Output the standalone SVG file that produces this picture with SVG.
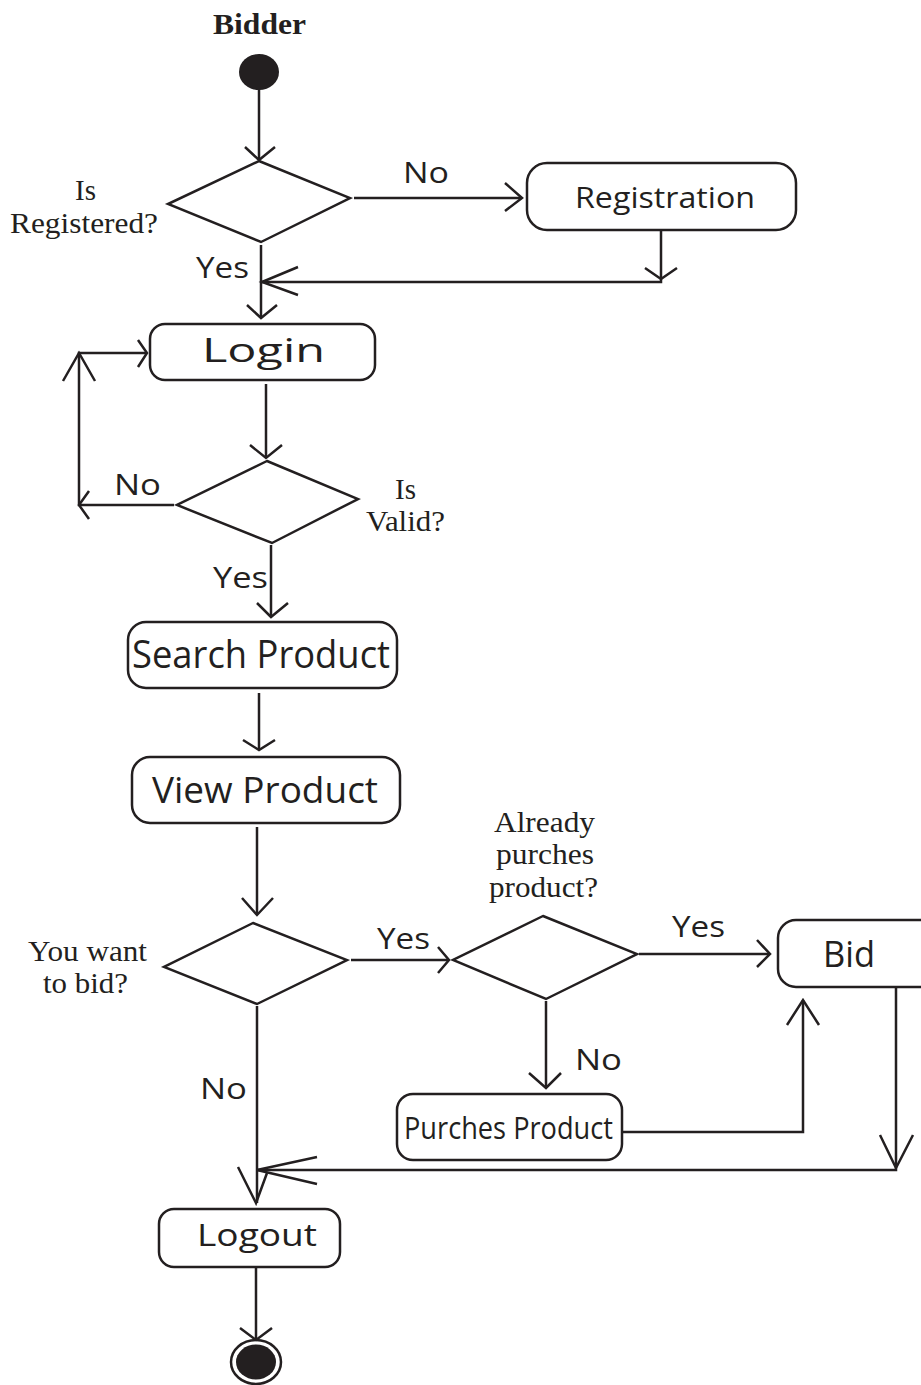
<svg xmlns="http://www.w3.org/2000/svg" width="921" height="1385" viewBox="0 0 921 1385">
  <style>
    .box { fill: #ffffff; stroke: #231f20; stroke-width: 2.5; }
    .dia { fill: #ffffff; stroke: #231f20; stroke-width: 2.5; stroke-linejoin: miter; }
    .ln { fill: none; stroke: #231f20; stroke-width: 2.5; }
    .hd { fill: none; stroke: #231f20; stroke-width: 2.5; stroke-linejoin: miter; }
    .lbl { font-family: "Open Sans", "Noto Sans", sans-serif; fill: #231f20; }
    .srf { font-family: "Liberation Serif", "Times New Roman", serif; fill: #231f20; font-size: 29.5px; }
  </style>

  <rect width="921" height="1385" fill="#ffffff"/>

  <!-- swimlane title -->
  <text class="srf" x="213" y="34" font-size="33" font-weight="bold" textLength="93" lengthAdjust="spacingAndGlyphs">Bidder</text>

  <!-- initial node -->
  <g id="start">
    <ellipse cx="259" cy="72" rx="20" ry="18" fill="#231f20"/>
  </g>

  <!-- decision: registered? -->
  <g id="isRegistered">
    <polygon class="dia" points="259,161 350,198 261,242 168,204"/>
    <text class="srf" x="75" y="200" textLength="21" lengthAdjust="spacingAndGlyphs">Is</text>
    <text class="srf" x="10" y="233" textLength="148" lengthAdjust="spacingAndGlyphs">Registered?</text>
  </g>

  <g id="registration">
    <rect class="box" x="527" y="163" width="269" height="67" rx="20"/>
    <text class="lbl" x="575" y="208" font-size="29" textLength="180" lengthAdjust="spacingAndGlyphs">Registration</text>
  </g>

  <g id="login">
    <rect class="box" x="150" y="324" width="225" height="56" rx="15"/>
    <text class="lbl" x="202" y="362" font-size="33" font-weight="500" textLength="123" lengthAdjust="spacingAndGlyphs">Login</text>
  </g>

  <!-- decision: valid? -->
  <g id="isValid">
    <polygon class="dia" points="267,461 358,499 272,543 177,505"/>
    <text class="srf" x="395" y="499" textLength="21" lengthAdjust="spacingAndGlyphs">Is</text>
    <text class="srf" x="366" y="531" textLength="79" lengthAdjust="spacingAndGlyphs">Valid?</text>
  </g>

  <g id="searchProduct">
    <rect class="box" x="128" y="622" width="269" height="66" rx="18"/>
    <text class="lbl" x="132" y="668" font-size="38" textLength="258" lengthAdjust="spacingAndGlyphs">Search Product</text>
  </g>

  <g id="viewProduct">
    <rect class="box" x="132" y="757" width="268" height="66" rx="18"/>
    <text class="lbl" x="152" y="803" font-size="37" textLength="226" lengthAdjust="spacingAndGlyphs">View Product</text>
  </g>

  <!-- decision: want to bid? -->
  <g id="wantToBid">
    <polygon class="dia" points="253,923 347,960 257,1004 164,967"/>
    <text class="srf" x="28" y="961" textLength="119" lengthAdjust="spacingAndGlyphs">You want</text>
    <text class="srf" x="43" y="993" textLength="85" lengthAdjust="spacingAndGlyphs">to bid?</text>
  </g>

  <!-- decision: already purchased? -->
  <g id="alreadyPurchased">
    <polygon class="dia" points="543,916 637,954 546,999 453,960"/>
    <text class="srf" x="494" y="832" textLength="101" lengthAdjust="spacingAndGlyphs">Already</text>
    <text class="srf" x="496" y="864" textLength="98" lengthAdjust="spacingAndGlyphs">purches</text>
    <text class="srf" x="489" y="897" textLength="109" lengthAdjust="spacingAndGlyphs">product?</text>
  </g>

  <!-- runs past the right border of the page -->
  <g id="bid">
    <rect class="box" x="778" y="920" width="170" height="67" rx="18"/>
    <text class="lbl" x="823" y="967" font-size="36" textLength="52" lengthAdjust="spacingAndGlyphs">Bid</text>
  </g>

  <g id="purchesProduct">
    <rect class="box" x="397" y="1094" width="225" height="66" rx="16"/>
    <text class="lbl" x="404" y="1139" font-size="31" textLength="209" lengthAdjust="spacingAndGlyphs">Purches Product</text>
  </g>

  <g id="logout">
    <rect class="box" x="159" y="1209" width="181" height="58" rx="15"/>
    <text class="lbl" x="197" y="1246" font-size="31" textLength="120" lengthAdjust="spacingAndGlyphs">Logout</text>
  </g>

  <!-- final node -->
  <g id="end">
    <ellipse cx="256" cy="1362" rx="25" ry="22" fill="#ffffff" stroke="#231f20" stroke-width="2.5"/>
    <ellipse cx="256" cy="1362" rx="20" ry="17.5" fill="#231f20"/>
  </g>

  <!-- control flows -->
  <g id="connectors">
    <path class="ln" d="M259,89 V160"/>
    <path class="hd" d="M245,147 L259,160 L275,147"/>

    <path class="ln" d="M354,198 H522"/>
    <path class="hd" d="M505,183 L522,198 L505,211"/>

    <path class="ln" d="M661,230 V282 H262"/>
    <path class="hd" d="M645,268 L661,279 L677,268"/>
    <path class="hd" d="M298,267 L262,282 L298,295"/>

    <path class="ln" d="M261,245 V318"/>
    <path class="hd" d="M247,305 L261,318 L277,305"/>

    <path class="ln" d="M266,384 V458"/>
    <path class="hd" d="M250,445 L266,458 L282,445"/>

    <path class="ln" d="M174,505 H79 V353 H147"/>
    <path class="hd" d="M89,491 L79,505 L89,519"/>
    <path class="hd" d="M63,381 L79,353 L95,381"/>
    <path class="hd" d="M138,340 L147,353 L138,367"/>

    <path class="ln" d="M271,545 V617"/>
    <path class="hd" d="M257,603 L271,617 L288,603"/>

    <path class="ln" d="M259,693 V750"/>
    <path class="hd" d="M243,740 L259,750 L275,740"/>

    <path class="ln" d="M257,827 V915"/>
    <path class="hd" d="M242,898 L257,915 L273,898"/>

    <path class="ln" d="M351,960 H449"/>
    <path class="hd" d="M438,947 L449,960 L438,973"/>

    <path class="ln" d="M639,954 H770"/>
    <path class="hd" d="M757,940 L770,954 L757,967"/>

    <path class="ln" d="M546,1001 V1088"/>
    <path class="hd" d="M529,1073 L546,1088 L561,1073"/>

    <path class="ln" d="M622,1132 H803 V1000"/>
    <path class="hd" d="M787,1025 L803,1000 L819,1025"/>

    <path class="ln" d="M896,987 V1170 H257"/>
    <path class="hd" d="M880,1135 L896,1168 L913,1135"/>
    <path class="hd" d="M317,1157 L257,1170 L317,1184"/>

    <path class="ln" d="M257,1006 V1203"/>
    <path class="hd" d="M238,1167 L256,1203 L267,1173"/>

    <path class="ln" d="M256,1267 V1340"/>
    <path class="hd" d="M240,1328 L256,1340 L272,1328"/>
  </g>

  <!-- guard labels -->
  <g id="guards">
    <text class="lbl" x="403" y="183" font-size="30" textLength="46" lengthAdjust="spacingAndGlyphs">No</text>
    <text class="lbl" x="196" y="278" font-size="30" textLength="53" lengthAdjust="spacingAndGlyphs">Yes</text>
    <text class="lbl" x="114" y="495" font-size="30" textLength="47" lengthAdjust="spacingAndGlyphs">No</text>
    <text class="lbl" x="213" y="588" font-size="30" textLength="55" lengthAdjust="spacingAndGlyphs">Yes</text>
    <text class="lbl" x="377" y="949" font-size="30" textLength="53" lengthAdjust="spacingAndGlyphs">Yes</text>
    <text class="lbl" x="672" y="937" font-size="30" textLength="53" lengthAdjust="spacingAndGlyphs">Yes</text>
    <text class="lbl" x="575" y="1070" font-size="30" textLength="47" lengthAdjust="spacingAndGlyphs">No</text>
    <text class="lbl" x="200" y="1099" font-size="30" textLength="47" lengthAdjust="spacingAndGlyphs">No</text>
  </g>
</svg>
